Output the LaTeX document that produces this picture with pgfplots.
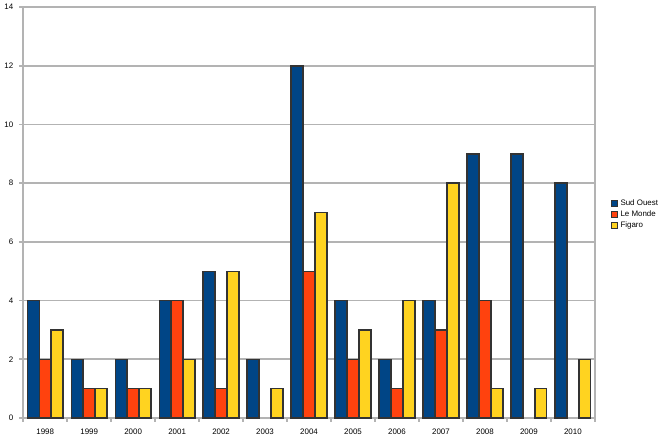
\documentclass[border=0pt]{standalone}
\usepackage{pgfplots}
\pgfplotsset{compat=1.18}
\usepackage{fontspec}
\setmainfont{Liberation Sans}
\definecolor{sudouest}{HTML}{004586}
\definecolor{lemonde}{HTML}{FF420E}
\definecolor{figaro}{HTML}{FFD320}
\definecolor{gridgray}{HTML}{B3B3B3}
\begin{document}
\begin{tikzpicture}
\begin{axis}[
  scale only axis,
  width=432pt,
  height=310.5pt,
  ybar=0pt,
  bar width=9pt,
  ymin=0, ymax=14,
  ytick={0,2,...,14},
  xmin=-0.5, xmax=12.5,
  xtick={0,...,12},
  xticklabels={1998,1999,2000,2001,2002,2003,2004,2005,2006,2007,2008,2009,2010},
  minor xtick={-0.5,0.5,...,12.5},
  major x tick style={draw=none},
  minor tick length=3pt,
  major tick length=3pt,
  tick align=outside,
  xtick pos=bottom, ytick pos=left,
  tick style={gridgray, line width=1.3pt},
  axis line style={gridgray, line width=1.5pt},
  ymajorgrids,
  grid style={gridgray, line width=1.3pt},
  tick label style={font=\fontsize{6}{7}\selectfont},
  yticklabel style={xshift=-1pt},
  xticklabel style={yshift=-1.5pt},
  /pgf/number format/assume math mode=true,
  legend style={draw=none, fill=none, at={(rel axis cs:1,0.495)}, anchor=west, xshift=11pt,
    font=\fontsize{6}{7}\selectfont, row sep=-1.5pt, inner sep=1pt},
  legend image code/.code={\draw[#1, draw=black!80, line width=0.8pt] (0cm,-2.2pt) rectangle (4.4pt,2.2pt);},
  legend cell align=left,
]
\addplot[fill=sudouest, draw=black!80, line width=1.1pt] coordinates {(0,4) (1,2) (2,2) (3,4) (4,5) (5,2) (6,12) (7,4) (8,2) (9,4) (10,9) (11,9) (12,8)};
\addplot[fill=lemonde, draw=black!80, line width=1.1pt] coordinates {(0,2) (1,1) (2,1) (3,4) (4,1) (6,5) (7,2) (8,1) (9,3) (10,4)};
\addplot[fill=figaro, draw=black!80, line width=1.1pt] coordinates {(0,3) (1,1) (2,1) (3,2) (4,5) (5,1) (6,7) (7,3) (8,4) (9,8) (10,1) (11,1) (12,2)};
\legend{Sud Ouest, Le Monde, Figaro}
\end{axis}
\path ([shift={(-14.25pt,-17.25pt)}]current axis.south west) rectangle ([shift={(50.25pt,5.25pt)}]current axis.north east);
\end{tikzpicture}
\end{document}
